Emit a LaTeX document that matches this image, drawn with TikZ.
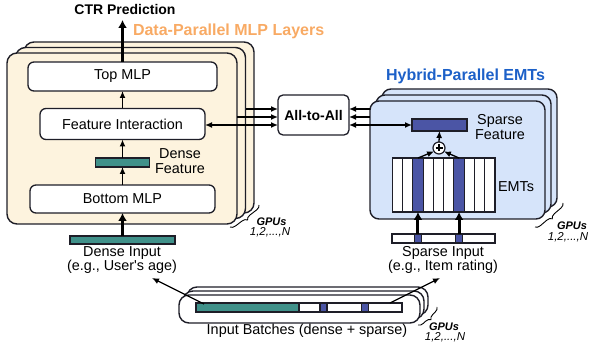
\documentclass[tikz,border=0pt]{standalone}
\usepackage{fontspec}
\setmainfont{Liberation Sans}
\usetikzlibrary{arrows.meta,decorations.pathreplacing,calc}
\definecolor{cream}{RGB}{253,243,222}
\definecolor{orangetitle}{RGB}{248,170,100}
\definecolor{bluefill}{RGB}{214,228,250}
\definecolor{bluetitle}{RGB}{28,96,200}
\definecolor{tealc}{RGB}{64,145,138}
\definecolor{emtblue}{RGB}{75,85,165}
\definecolor{edge}{RGB}{30,30,40}
\begin{document}
\begin{tikzpicture}[x=1pt,y=-1pt,
  every node/.style={font=\fontsize{14.4}{14.8}\selectfont, inner sep=0pt, outer sep=0pt},
  panelL/.style={draw=edge, fill=cream, line width=1.4pt, rounded corners=10pt, minimum width=230pt, minimum height=171pt},
  panelR/.style={draw=edge, fill=bluefill, line width=1.4pt, rounded corners=9pt, minimum width=175pt, minimum height=118pt},
  panelB/.style={draw=edge, fill=white, line width=1.4pt, rounded corners=10pt, minimum width=241pt, minimum height=28pt},
  wbox/.style={draw=edge, fill=white, line width=1.3pt, rounded corners=6pt},
  bar/.style={draw=edge, line width=1.1pt},
  col/.style={draw=edge, line width=1.1pt, minimum width=10.27pt, minimum height=54pt},
  arr/.style={-{Latex[length=7pt,width=6pt]}, line width=1.3pt},
  darr/.style={{Latex[length=7pt,width=6pt]}-{Latex[length=7pt,width=6pt]}, line width=1.3pt},
  tarr/.style={-{Latex[length=8pt,width=9pt]}, line width=3pt},
  gbrace/.style={decorate, decoration={brace, amplitude=5pt}, line width=0.9pt},
  gpu/.style={font=\fontsize{11}{12}\selectfont\bfseries\itshape},
  gnum/.style={font=\fontsize{11.5}{12}\selectfont\itshape},
  title/.style={font=\fontsize{16}{18}\selectfont\bfseries}
]
\useasboundingbox (0,0) rectangle (592,347);

% ---------- left panels (data-parallel) ----------
\node[panelL] (pL3) at (139,127.5) {};
\node[panelL] (pL2) at (130.5,133) {};
\node[panelL] (pL1) at (122,138.5) {};

% ---------- right panels (hybrid-parallel) ----------
\node[panelR] (pR3) at (469.5,148) {};
\node[panelR] (pR2) at (463.5,154) {};
\node[panelR] (pR1) at (457.5,160) {};

% ---------- bottom panels (input batches) ----------
\node[panelB] (pB3) at (307.5,301) {};
\node[panelB] (pB2) at (303.5,305) {};
\node[panelB] (pB1) at (299.5,309) {};

% ---------- titles ----------
\node[font=\fontsize{14}{16}\selectfont\bfseries] (ctr) at (125,9.5) {CTR Prediction};
\node[title, text=orangetitle, anchor=west] (dpt) at (133,31) {Data-Parallel MLP Layers};
\node[title, text=bluetitle] (hpt) at (465.5,76) {Hybrid-Parallel EMTs};

% ---------- left column ----------
\node[wbox, minimum width=189pt, minimum height=29pt] (top) at (122.5,76.5) {Top MLP};
\node[wbox, minimum width=165pt, minimum height=31pt] (fi) at (122.5,124) {Feature Interaction};
\node[bar, fill=tealc, minimum width=54pt, minimum height=9pt] (df) at (122.5,162.5) {};
\node[align=center] (dft) at (180,161) {Dense\\Feature};
\node[wbox, minimum width=185pt, minimum height=28pt] (bot) at (122.5,199) {Bottom MLP};
\node[bar, fill=tealc, minimum width=105pt, minimum height=8pt] (di) at (122.5,240) {};
\node[align=center] (dit) at (122,260) {Dense Input\\(e.g., User\textquotesingle s age)};

\draw[arr] (bot.north) -- (df.south);
\draw[arr] (df.north) -- (fi.south);
\draw[arr] (fi.north) -- (top.south);
\coordinate (ctrtip) at (122.5,20);
\draw[tarr] (top.north) -- (ctrtip);
\draw[tarr] (di.north) -- (bot.south);

% ---------- all-to-all ----------
\node[draw=edge, fill=white, line width=1.3pt, rounded corners=5pt, minimum width=71pt, minimum height=40pt, font=\fontsize{14}{16}\selectfont\bfseries] (a2a) at (313.5,115) {All-to-All};

% ---------- right column ----------
\node[bar, fill=emtblue, minimum width=55pt, minimum height=12pt] (sf) at (439.5,125) {};
\node[align=center] (sft) at (500,127) {Sparse\\Feature};
\node[draw=edge, fill=white, circle, line width=1.2pt, minimum size=12pt] (plus) at (439,148) {};
\draw[line width=1.6pt] ($(plus.center)+(-3.5,0)$) -- ($(plus.center)+(3.5,0)$);
\draw[line width=1.6pt] ($(plus.center)+(0,-3.5)$) -- ($(plus.center)+(0,3.5)$);

\foreach \i/\f in {0/white,1/white,2/emtblue,3/white,4/white,5/white,6/emtblue,7/white,8/white,9/white}{
  \pgfmathsetmacro\cx{392.3+(\i+0.5)*10.27}
  \node[col, fill=\f] (c\i) at (\cx,185) {};
}
\node (emt) at (516,187) {EMTs};

\node[bar, fill=white, minimum width=103pt, minimum height=9pt] (si) at (443.5,238.5) {};
\node[bar, fill=emtblue, minimum width=7pt, minimum height=9pt] (sq1) at (c2.center |- si.center) {};
\node[bar, fill=emtblue, minimum width=7pt, minimum height=9pt] (sq2) at (c6.center |- si.center) {};
\node[align=center] (sit) at (443,260) {Sparse Input\\(e.g., Item rating)};

\draw[tarr] (sq1.north) -- (c2.south);
\draw[tarr] (sq2.north) -- (c6.south);
\draw[arr] (c2.north) -- (plus.215);
\draw[arr] (c6.north) -- (plus.325);
\draw[arr] (plus.north) -- (sf.south);

% ---------- all-to-all connectors ----------
\coordinate (l1) at (246,109);
\coordinate (l2) at (237,117);
\coordinate (r1) at (370,109);
\coordinate (r2) at (370,117);
\draw[arr] (l1) -- (l1 -| a2a.west);
\draw[arr] (l2) -- (l2 -| a2a.west);
\draw[darr] (fi.east |- sf.west) -- (a2a.west |- sf.west);
\draw[arr] (r1) -- (r1 -| a2a.east);
\draw[arr] (r2) -- (r2 -| a2a.east);
\draw[darr] (a2a.east |- sf.west) -- (sf.west);

% ---------- input batches ----------
\node[bar, fill=tealc, minimum width=103pt, minimum height=9pt] (bt) at (247.5,307.5) {};
\node[bar, fill=white, minimum width=103pt, minimum height=9pt] (bw) at (350.5,307.5) {};
\node[bar, fill=emtblue, minimum width=7pt, minimum height=9pt] (bs1) at (323.5,307.5) {};
\node[bar, fill=emtblue, minimum width=7pt, minimum height=9pt] (bs2) at (365,307.5) {};
\node (ibt) at (307,331) {Input Batches (dense + sparse)};
\coordinate (da) at (152,278);
\coordinate (sa) at (440,278);
\draw[arr] ($(bt.north west)+(8,1)$) -- (da);
\draw[arr] ($(bw.north east)+(-12,0)$) -- (sa);

% ---------- GPU braces ----------
\coordinate (gb1a) at (259,205); \coordinate (gb1b) at (230,227);
\draw[gbrace] (gb1a) -- (gb1b);
\node[gpu] (g1) at (271.5,222) {GPUs};
\node[gnum] (n1) at (270,232.5) {1,2,...,N};

\coordinate (gb2a) at (563,203); \coordinate (gb2b) at (535,227);
\draw[gbrace] (gb2a) -- (gb2b);
\node[gpu] (g2) at (572,226) {GPUs};
\node[gnum] (n2) at (568,237.5) {1,2,...,N};

\coordinate (gb3a) at (437,307); \coordinate (gb3b) at (418,325);
\draw[gbrace] (gb3a) -- (gb3b);
\node[gpu] (g3) at (444,327) {GPUs};
\node[gnum] (n3) at (445,337.5) {1,2,...,N};
\end{tikzpicture}
\end{document}
